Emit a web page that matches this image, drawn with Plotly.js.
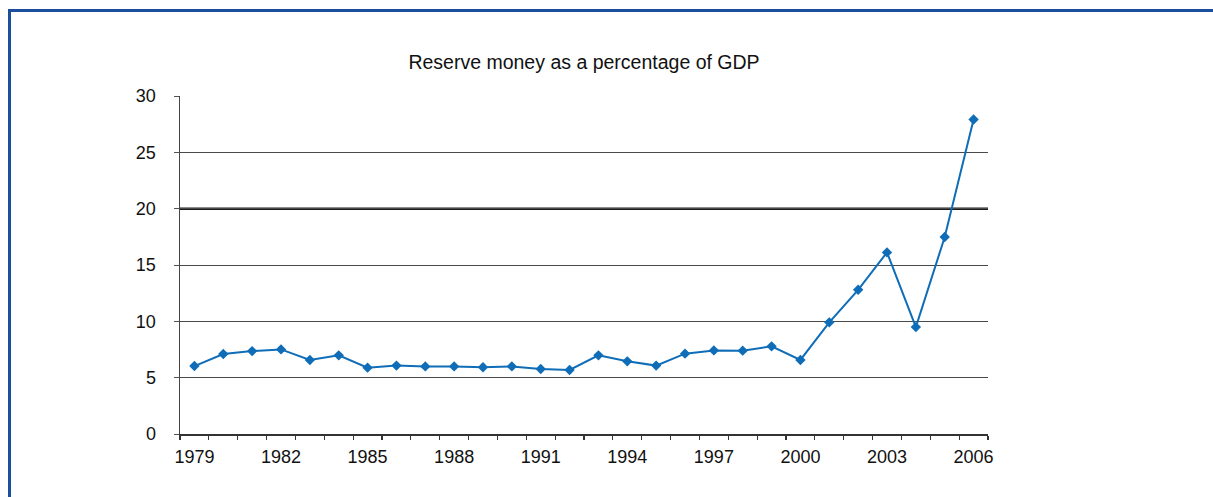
<!DOCTYPE html>
<html>
<head>
<meta charset="utf-8">
<script src="https://cdn.plot.ly/plotly-3.0.1.min.js"></script>
<style>
  html, body { margin: 0; padding: 0; background: #ffffff; }
  #frame { position: absolute; left: 8px; top: 9px; right: 0; bottom: 0;
           border-top: 3px solid #1b4f9e; border-left: 3px solid #1b4f9e; }
  #chart { position: absolute; left: 0; top: 0; width: 1213px; height: 497px; }
</style>
</head>
<body>
<div id="frame"></div>
<div id="chart"></div>
<script>
const years = [1979, 1980, 1981, 1982, 1983, 1984, 1985, 1986, 1987, 1988,
               1989, 1990, 1991, 1992, 1993, 1994, 1995, 1996, 1997, 1998,
               1999, 2000, 2001, 2002, 2003, 2004, 2005, 2006];
const reserveMoneyPctGDP = [6.03, 7.10, 7.36, 7.51, 6.57, 6.98, 5.89, 6.07, 6.00, 6.00,
                            5.92, 6.00, 5.77, 5.68, 6.98, 6.45, 6.07, 7.13, 7.42, 7.40,
                            7.78, 6.57, 9.91, 12.80, 16.12, 9.49, 17.48, 27.92];
const yTicks = [0, 5, 10, 15, 20, 25, 30];
const xTickLabels = [1979, 1982, 1985, 1988, 1991, 1994, 1997, 2000, 2003, 2006];
const referenceLevel = 20;
const titleText = "Reserve money as a percentage of GDP";

const lineColor = "#0f6db8";
const font = "Liberation Sans, Arial, Helvetica, sans-serif";

const trace = {
  x: years,
  y: reserveMoneyPctGDP,
  type: "scatter",
  mode: "lines+markers",
  line: { color: lineColor, width: 2 },
  marker: { symbol: "diamond", size: 8, color: lineColor },
  hoverinfo: "x+y"
};

const layout = {
  width: 1213,
  height: 497,
  margin: { l: 180, r: 225, t: 96, b: 63, pad: 0 },
  paper_bgcolor: "rgba(0,0,0,0)",
  plot_bgcolor: "rgba(0,0,0,0)",
  showlegend: false,
  font: { family: font, size: 18, color: "#111111" },
  title: {
    text: titleText,
    font: { family: font, size: 19.5, color: "#111111" },
    x: 0.5, xref: "paper", xanchor: "center",
    y: 1 - 62 / 497, yref: "container", yanchor: "middle"
  },
  xaxis: {
    range: [years[0] - 0.5, years[years.length - 1] + 0.5],
    tickmode: "array",
    tickvals: xTickLabels,
    ticktext: xTickLabels.map(String),
    ticks: "",
    ticklabelstandoff: 5,
    showgrid: false,
    zeroline: false,
    showline: true,
    linecolor: "#333333",
    linewidth: 2,
    tickfont: { family: font, size: 18, color: "#111111" },
    minor: {
      tick0: years[0] - 0.5,
      dtick: 1,
      ticks: "outside",
      ticklen: 4,
      tickwidth: 1.2,
      tickcolor: "#333333",
      showgrid: false
    },
    fixedrange: true
  },
  yaxis: {
    range: [yTicks[0], yTicks[yTicks.length - 1]],
    tickmode: "array",
    tickvals: yTicks,
    ticks: "outside",
    ticklen: 5,
    tickwidth: 1,
    tickcolor: "#555555",
    ticklabelstandoff: 14,
    showgrid: true,
    gridcolor: "#4a4a4a",
    gridwidth: 1,
    zeroline: false,
    showline: true,
    linecolor: "#444444",
    linewidth: 1.5,
    tickfont: { family: font, size: 18, color: "#111111" },
    fixedrange: true
  },
  shapes: [{
    type: "line",
    xref: "paper", x0: 0, x1: 1,
    yref: "y", y0: referenceLevel, y1: referenceLevel,
    line: { color: "#1a1a1a", width: 2.5 },
    layer: "below"
  }]
};

Plotly.newPlot("chart", [trace], layout, { displayModeBar: false, staticPlot: true });
</script>
</body>
</html>
